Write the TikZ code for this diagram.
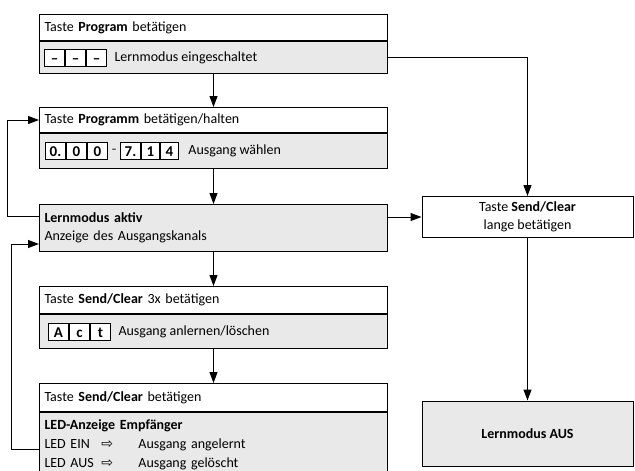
\documentclass[tikz,border=0pt]{standalone}
\usepackage{fontspec}
\setmainfont{Carlito}
\newfontfamily\arrowfont{DejaVu Sans}
\usetikzlibrary{positioning}
\usetikzlibrary{arrows.meta}
\definecolor{bodygray}{gray}{0.915}

\begin{document}
\begin{tikzpicture}[
  x=1pt,y=-1pt,
  font=\fontsize{14}{18}\selectfont,
  line width=1pt,
  >={Triangle[length=11pt,width=8pt]},
  head/.style={draw,fill=white,text width=338pt,inner xsep=5pt,inner ysep=0pt,
    minimum height=#1,align=left},
  head/.default=26pt,
  panel/.style={head=#1,fill=bodygray},
  digit/.style={draw,fill=white,minimum width=20pt,minimum height=17pt,
    inner xsep=0pt,inner ysep=3pt,text height=11pt,text depth=0pt,
    font=\fontsize{15}{15}\selectfont\bfseries},
  caption/.style={inner sep=0pt,anchor=west},
  sidebox/.style={draw,minimum width=211pt,minimum height=#1,align=center},
]
\useasboundingbox (0,0) rectangle (635,471);

% left column
\node[head=26pt,anchor=north west] (progA) at (39,14) {Taste \textbf{Program} betätigen};
\node[panel=32pt,below=0pt of progA] (learnA) {};
\node[head=25pt,below=33pt of learnA] (progB) {Taste \textbf{Programm} betätigen/halten};
\node[panel=35pt,below=0pt of progB] (chanB) {};
\node[panel=47pt,below=35pt of chanB] (active) {\textbf{Lernmodus aktiv}\\Anzeige des Ausgangskanals};
\node[head=27pt,below=34pt of active] (sendA) {Taste \textbf{Send/Clear} 3x betätigen};
\node[panel=34pt,below=0pt of sendA] (actC) {};
\node[head=28pt,below=34pt of actC] (sendB) {Taste \textbf{Send/Clear} betätigen};
\node[panel=64pt,below=0pt of sendB,font=\fontsize{14}{19}\selectfont] (ledD)
  {\textbf{LED-Anzeige Empfänger}\\
   \makebox[57pt][l]{LED EIN}\makebox[37pt][l]{\arrowfont ⇨}Ausgang angelernt\\
   \makebox[57pt][l]{LED AUS}\makebox[37pt][l]{\arrowfont ⇨}Ausgang gelöscht};

% display digits
\node[digit,right=5pt of learnA.west] (dashA) {–};
\node[digit,right=0pt of dashA] (dashB) {–};
\node[digit,right=0pt of dashB] (dashC) {–};
\node[caption,right=7pt of dashC] (learnTxt) {Lernmodus eingeschaltet};

\node[digit,right=6pt of chanB.west] (chZero) {0.};
\node[digit,right=0pt of chZero] (chOne) {0};
\node[digit,right=0pt of chOne] (chTwo) {0};
\node[inner sep=0pt,right=3pt of chTwo,font=\bfseries] (chDash) {–};
\node[digit,minimum width=20pt,right=3pt of chDash] (chSeven) {7.};
\node[digit,minimum width=18pt,right=0pt of chSeven] (chEight) {1};
\node[digit,minimum width=18pt,right=0pt of chEight] (chNine) {4};
\node[caption,right=9pt of chNine] (chanTxt) {Ausgang wählen};

\node[digit,right=9pt of actC.west] (actA) {A};
\node[digit,right=0pt of actA] (actB) {c};
\node[digit,right=0pt of actB] (actT) {t};
\node[caption,right=7pt of actT] (actTxt) {Ausgang anlernen/löschen};

% right column
\node[sidebox=41pt,fill=white] (longSend) at (527.5,217) {Taste \textbf{Send/Clear}\\lange betätigen};
\node[sidebox=65pt,fill=bodygray] (offA) at (527.5,433.5) {\textbf{Lernmodus AUS}};

% connectors
\draw[->] (learnA) -- (progB);
\draw[->] (chanB) -- (active);
\draw[->] (active) -- (sendA);
\draw[->] (actC) -- (sendB);
\draw[->] (learnA.east) -| (longSend.north);
\draw[->] (active.east |- longSend.west) -- (longSend.west);
\draw[->] (longSend) -- (offA);
\draw[->] ([yshift=12pt]active.west) -- ++(-32,0) |- (progB.west);
\draw[->] ([yshift=-5pt]ledD.west) -- ++(-28,0) |- ([yshift=-16pt]active.west);
\end{tikzpicture}
\end{document}
